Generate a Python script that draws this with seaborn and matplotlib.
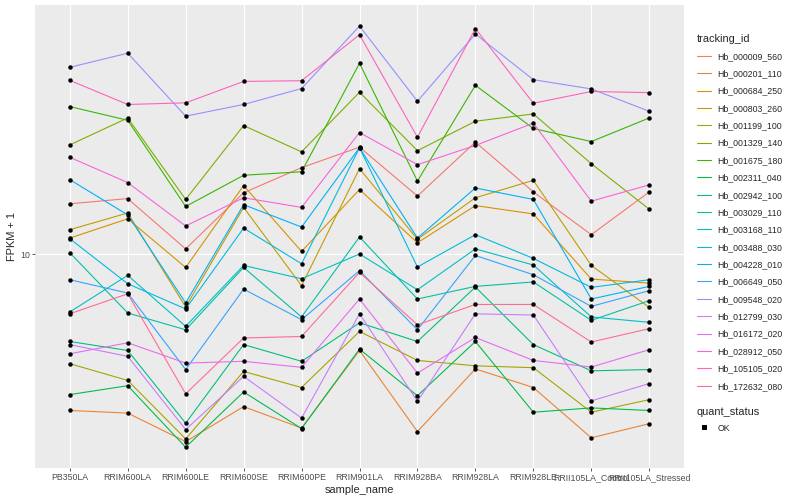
import numpy as np
import pandas as pd
import matplotlib
matplotlib.use('Agg')
import matplotlib.pyplot as plt
import seaborn as sns
from matplotlib.lines import Line2D
from matplotlib.ticker import FixedLocator, FixedFormatter, NullLocator

## samples along the x axis
sample_names = ['PB350LA', 'RRIM600LA', 'RRIM600LE', 'RRIM600SE', 'RRIM600PE', 'RRIM901LA',
                'RRIM928BA', 'RRIM928LA', 'RRIM928LE', 'RRII105LA_Control', 'RRII105LA_Stressed']

tracking_ids = ['Hb_000009_560', 'Hb_000201_110', 'Hb_000684_250', 'Hb_000803_260', 'Hb_001199_100',
                'Hb_001329_140', 'Hb_001675_180', 'Hb_002311_040', 'Hb_002942_100', 'Hb_003029_110',
                'Hb_003168_110', 'Hb_003488_030', 'Hb_004228_010', 'Hb_006649_050', 'Hb_009548_020',
                'Hb_012799_030', 'Hb_016172_020', 'Hb_028912_050', 'Hb_105105_020', 'Hb_172632_080']

## ggplot hue palette for 20 levels
hue_colors = ['#F8766D', '#EA8331', '#D89000', '#C09B00', '#A3A500', '#7CAE00', '#39B600', '#00BB4E',
              '#00BF7D', '#00C1A3', '#00BFC4', '#00BAE0', '#00B0F6', '#35A2FF', '#9590FF', '#C77CFF',
              '#E76BF3', '#FA62DB', '#FF62BC', '#FF6C91']

## FPKM + 1 per gene, one value per sample
hb_000009_560 = [14.7, 15.3, 10.4, 16.0, 19.4, 22.7, 15.6, 23.6, 16.1, 11.6, 16.1]
hb_000201_110 = [3.01, 2.95, 2.37, 3.10, 2.63, 4.77, 2.56, 4.14, 3.59, 2.44, 2.72]
hb_000684_250 = [11.3, 13.1, 9.02, 16.9, 10.2, 16.4, 10.9, 14.5, 13.6, 8.25, 8.00]
hb_000803_260 = [12.05, 13.7, 6.66, 14.3, 7.84, 19.25, 11.2, 15.4, 17.6, 9.16, 6.64]
hb_001199_100 = [4.31, 3.79, 2.42, 4.06, 3.59, 5.52, 4.42, 4.24, 4.18, 2.97, 3.27]
hb_001329_140 = [23.1, 28.4, 15.2, 26.8, 21.9, 34.6, 22.1, 27.7, 29.3, 20.0, 14.1]
hb_001675_180 = [31.0, 27.9, 14.4, 18.3, 18.8, 43.2, 17.5, 36.5, 26.2, 23.7, 28.4]
hb_002311_040 = [3.40, 3.64, 2.27, 3.47, 2.62, 4.82, 3.37, 5.11, 2.97, 3.07, 3.01]
hb_002942_100 = [5.11, 4.77, 2.73, 4.99, 4.39, 5.90, 5.11, 7.76, 4.99, 4.08, 4.12]
hb_003029_110 = [10.1, 6.36, 5.59, 9.02, 6.17, 11.4, 7.08, 7.80, 8.07, 6.01, 6.99]
hb_003168_110 = [6.41, 8.49, 5.74, 9.16, 8.27, 10.0, 7.60, 10.4, 9.19, 6.17, 5.92]
hb_003488_030 = [11.25, 7.96, 6.56, 12.2, 9.28, 22.6, 9.05, 11.6, 9.67, 7.74, 8.21]
hb_004228_010 = [17.7, 13.5, 6.87, 14.6, 12.3, 22.6, 11.3, 16.6, 15.2, 7.08, 7.80]
hb_006649_050 = [8.21, 7.41, 4.12, 7.64, 6.04, 8.80, 5.59, 9.89, 8.53, 6.69, 7.55]
hb_009548_020 = [41.9, 46.7, 28.8, 31.5, 35.6, 57.5, 32.3, 54.1, 38.1, 35.5, 29.9]
hb_012799_030 = [4.99, 4.56, 2.60, 3.91, 2.84, 6.32, 3.23, 6.32, 6.26, 3.24, 3.70]
hb_016172_020 = [4.65, 5.06, 4.33, 4.39, 4.19, 7.08, 4.01, 5.27, 4.42, 4.20, 4.80]
hb_028912_050 = [21.0, 17.3, 12.4, 15.4, 14.3, 25.4, 19.85, 23.0, 27.3, 15.0, 17.0]
hb_105105_020 = [37.9, 31.5, 31.9, 37.6, 37.8, 53.8, 24.5, 56.4, 31.8, 34.8, 34.5]
hb_172632_080 = [6.32, 7.37, 3.42, 5.25, 5.31, 8.68, 5.81, 6.79, 6.79, 5.09, 5.64]

series = [hb_000009_560, hb_000201_110, hb_000684_250, hb_000803_260, hb_001199_100,
          hb_001329_140, hb_001675_180, hb_002311_040, hb_002942_100, hb_003029_110,
          hb_003168_110, hb_003488_030, hb_004228_010, hb_006649_050, hb_009548_020,
          hb_012799_030, hb_016172_020, hb_028912_050, hb_105105_020, hb_172632_080]

rows = []
for tid, vals in zip(tracking_ids, series):
    for s, v in zip(sample_names, vals):
        rows.append({'tracking_id': tid, 'sample_name': s, 'fpkm': v, 'quant_status': 'OK'})
df = pd.DataFrame(rows)
df['sample_name'] = pd.Categorical(df['sample_name'], categories=sample_names, ordered=True)
df['x'] = df['sample_name'].cat.codes

sns.set_style('darkgrid', {'axes.facecolor': '#EBEBEB', 'grid.color': 'white'})
plt.rcParams['font.family'] = ['Liberation Sans', 'DejaVu Sans']

fig = plt.figure(figsize=(800 / 72, 500 / 72), dpi=72)
ax = fig.add_axes([35 / 800, 31.7 / 500, 649 / 800, 463.3 / 500])

sns.lineplot(data=df, x='x', y='fpkm', hue='tracking_id', palette=hue_colors,
             linewidth=1.1, ax=ax, legend=False, sort=False, estimator=None)
sns.scatterplot(data=df, x='x', y='fpkm', color='black', s=20, linewidth=0,
                ax=ax, legend=False, zorder=3)

ax.set_yscale('log')
lo, hi = df['fpkm'].min(), df['fpkm'].max()
pad = 10 ** (0.05 * np.log10(hi / lo))
ax.set_ylim(lo / pad, hi * pad)
ax.set_xlim(-0.6, len(sample_names) - 0.4)
ax.yaxis.set_major_locator(FixedLocator([10]))
ax.yaxis.set_major_formatter(FixedFormatter(['10']))
ax.yaxis.set_minor_locator(NullLocator())
ax.set_xticks(range(len(sample_names)))
ax.set_xticklabels(sample_names)
ax.grid(True, color='white', linewidth=1.1)
ax.set_axisbelow(True)
for sp in ax.spines.values():
    sp.set_visible(False)
ax.tick_params(axis='both', length=2.75, width=0.8, color='#333333',
               labelcolor='#4D4D4D', labelsize=8.8, pad=2.2)
ax.tick_params(axis='both', which='both', bottom=True, left=True)
ax.set_xlabel('sample_name', fontsize=11, labelpad=3)
ax.set_ylabel('FPKM + 1', fontsize=11, labelpad=3)

## legends on the right, ggplot style
line_handles = [Line2D([], [], color=c, linewidth=1.1) for c in hue_colors]
leg1 = fig.legend(line_handles, tracking_ids, title='tracking_id', loc='upper left',
                  bbox_to_anchor=(693 / 800, 1 - 30 / 500), frameon=False, fontsize=8.8,
                  title_fontsize=11, handlelength=1.7, handletextpad=0.65,
                  labelspacing=0.95, alignment='left', borderaxespad=0)
shape_handle = [Line2D([], [], color='black', marker='s', markersize=3.5, linestyle='none')]
leg2 = fig.legend(shape_handle, ['OK'], title='quant_status', loc='upper left',
                  bbox_to_anchor=(693 / 800, 1 - 403 / 500), frameon=False, fontsize=8.8,
                  title_fontsize=11, handlelength=1.7, handletextpad=0.65,
                  alignment='left', borderaxespad=0)
leg2._legend_box.sep = 7

fig.savefig('out.png', dpi=72)
